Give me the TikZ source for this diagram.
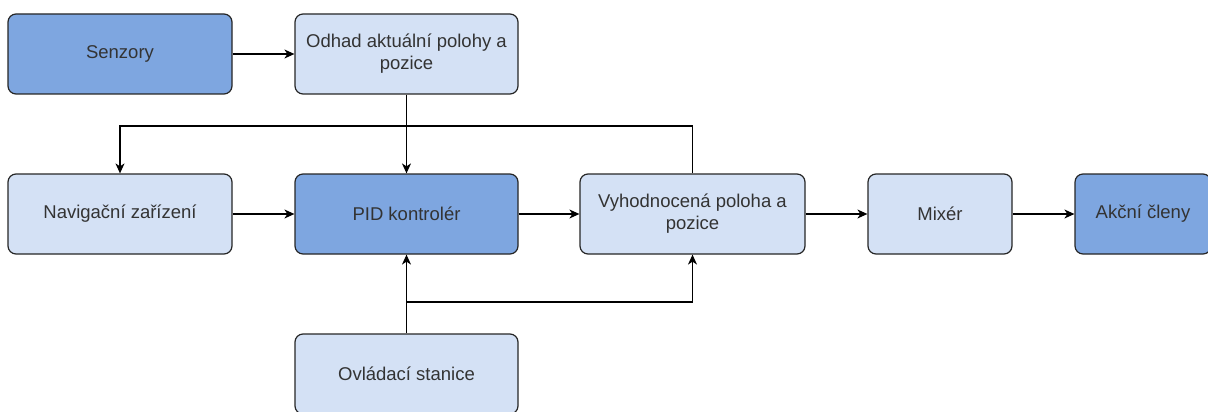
\documentclass[tikz,border=0pt]{standalone}
\usepackage{fontspec}
\setmainfont{Liberation Sans}
\usetikzlibrary{arrows.meta}

\definecolor{darkblue}{HTML}{7EA6E0}
\definecolor{lightblue}{HTML}{D4E1F5}

\begin{document}
\begin{tikzpicture}[x=1pt, y=-1pt,
    box/.style={draw=black!85, line width=1.2pt, rounded corners=8pt,
      minimum height=80pt, align=center, inner sep=2pt,
      font=\fontsize{18.5}{22}\selectfont, text=black!80},
    dark/.style={box, fill=darkblue},
    light/.style={box, fill=lightblue},
    conn/.style={line width=1.2pt, -{Stealth[length=10pt, width=9pt, inset=3pt]}}]
  \useasboundingbox (0,0) rectangle (1208,412);

  % top row
  \node[dark, minimum width=224pt] (senzory) at (120,54) {Senzory};
  \node[light, minimum width=223pt] (odhad) at (406.5,54)
    {Odhad aktuální polohy a\\pozice};

  % middle row
  \node[light, minimum width=224pt] (navigace) at (120,214) {Navigační zařízení};
  \node[dark, minimum width=223pt] (pid) at (406.5,214) {PID kontrolér};
  \node[light, minimum width=225pt] (vyhodnoceni) at (692.5,214)
    {Vyhodnocená poloha a\\pozice};
  \node[light, minimum width=144pt] (mixer) at (940,214) {Mixér};
  \node[dark, minimum width=136pt] (akcni) at (1143,214) {Akční členy};

  % bottom row
  \node[light, minimum width=223pt] (stanice) at (406.5,374) {Ovládací stanice};

  \coordinate (zpetna) at (vyhodnoceni.north |- 0,126);
  \coordinate (rozbocka) at (stanice.north |- 0,302);

  \draw[conn] (senzory) -- (odhad);
  \draw[conn] (odhad) -- (pid);
  \draw[conn] (navigace) -- (pid);
  \draw[conn] (pid) -- (vyhodnoceni);
  \draw[conn] (vyhodnoceni) -- (mixer);
  \draw[conn] (mixer) -- (akcni);
  \draw[conn] (stanice) -- (pid);
  \draw[conn] (rozbocka) -| (vyhodnoceni.south);
  \draw[conn] (vyhodnoceni.north) -- (zpetna) -| (navigace.north);
\end{tikzpicture}
\end{document}
